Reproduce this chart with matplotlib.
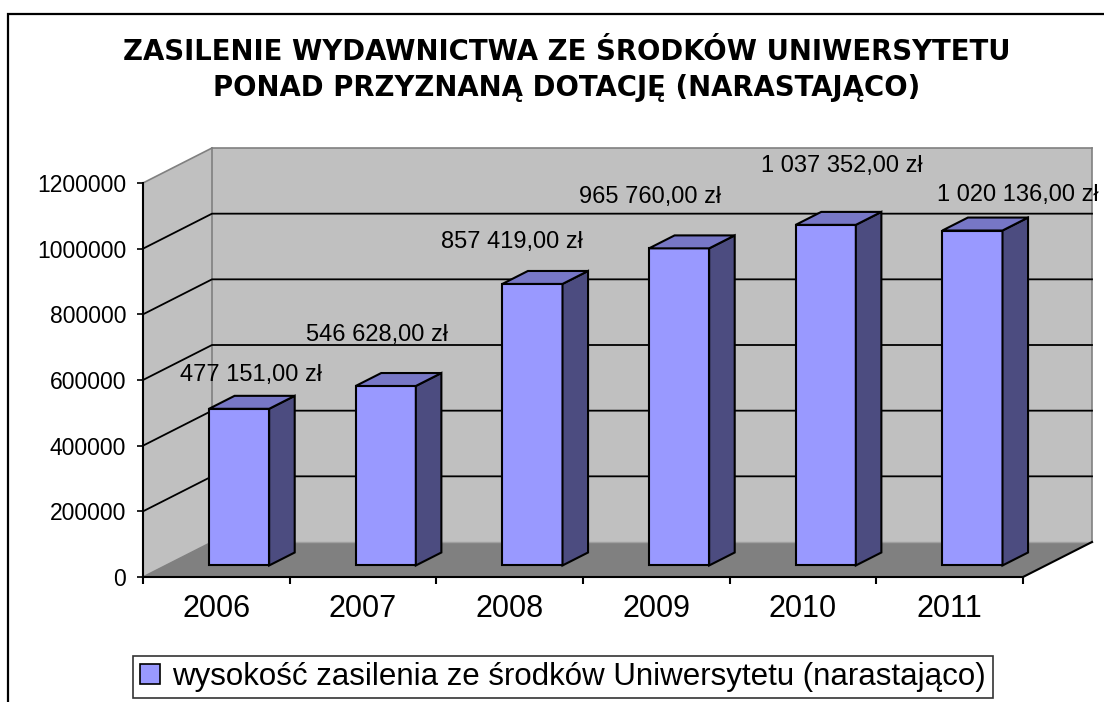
import matplotlib
matplotlib.use("Agg")
import matplotlib.pyplot as plt
from matplotlib.patches import Polygon, Rectangle
from matplotlib.lines import Line2D

plt.rcParams["font.family"] = ["Liberation Sans", "DejaVu Sans"]

# data
years = ["2006", "2007", "2008", "2009", "2010", "2011"]
values = [477151, 546628, 857419, 965760, 1037352, 1020136]
yticks = [0, 200000, 400000, 600000, 800000, 1000000, 1200000]
title_lines = ["ZASILENIE WYDAWNICTWA ZE ŚRODKÓW UNIWERSYTETU",
               "PONAD PRZYZNANĄ DOTACJĘ (NARASTAJĄCO)"]
legend_label = "wysokość zasilenia ze środków Uniwersytetu (narastająco)"

# hand-placed data label offsets (pixels, from top centre of each bar)
label_dx = [-1, -22, -33, -42, 3, 33]
label_dy = [27, 44, 35, 45, 52, 29]

# colours
front_c = "#9999ff"
top_c = "#7777c6"
side_c = "#4c4c80"
wall_c = "#c0c0c0"
floor_c = "#808080"

W, H = 1104, 702
fig = plt.figure(figsize=(W / 100, H / 100), dpi=100)

# outer frame (cut by the page edge on the right and bottom)
fig.patches.append(Rectangle((7.5 / W, -0.05), 1.2, (H - 13.5) / H + 0.05,
                             transform=fig.transFigure, fill=False,
                             ec="black", lw=1.6))

fig.text(567 / W, 1 - 59.5 / H, title_lines[0], ha="center", va="baseline",
         fontsize=19.8, fontweight="bold", family="DejaVu Sans")
fig.text(567 / W, 1 - 96 / H, title_lines[1], ha="center", va="baseline",
         fontsize=19.8, fontweight="bold", family="DejaVu Sans")

ax = fig.add_axes([143 / W, 1 - 577 / H, 880 / W, 394 / H])
n = len(years)
ymax = yticks[-1]
ax.set_xlim(0, n)
ax.set_ylim(0, ymax)

# oblique depth offsets in data units
DX = 0.4705
DY = 106600

# walls
ax.add_patch(Polygon([(0, 0), (DX, DY), (DX, ymax + DY), (0, ymax)],
                     closed=True, fc=wall_c, ec="none", clip_on=False, zorder=1))
ax.add_patch(Polygon([(DX, DY), (n + DX, DY), (n + DX, ymax + DY), (DX, ymax + DY)],
                     closed=True, fc=wall_c, ec="none", clip_on=False, zorder=1))
# wall edges
for xs, ys in [([0, DX], [ymax, ymax + DY]),
               ([DX, n + DX], [ymax + DY, ymax + DY]),
               ([DX, DX], [DY, ymax + DY]),
               ([n + DX, n + DX], [DY, ymax + DY]),
               ([0, DX], [0, DY])]:
    ax.add_line(Line2D(xs, ys, color="#808080", lw=1.2, clip_on=False, zorder=2))

# gridlines
for t in yticks[1:-1]:
    ax.add_line(Line2D([0, DX, n + DX], [t, t + DY, t + DY], color="black",
                       lw=1.3, clip_on=False, zorder=2))

# floor
ax.add_patch(Polygon([(0, 0), (n, 0), (n + DX, DY), (DX, DY)], closed=True,
                     fc=floor_c, ec="none", clip_on=False, zorder=3))
ax.add_line(Line2D([DX, n + DX], [DY, DY], color="#a0a0a0", lw=1.0,
                   clip_on=False, zorder=3))
ax.add_line(Line2D([n, n + DX], [0, DY], color="black", lw=1.5,
                   clip_on=False, zorder=3))

# bars
bw = 0.41
d0 = 0.33
dd = 0.37
for i, v in enumerate(values):
    x0 = i + 0.5 - bw / 2 + d0 * DX
    y0 = d0 * DY
    ox, oy = dd * DX, dd * DY
    kw = dict(closed=True, ec="black", lw=1.5, clip_on=False, zorder=4,
              joinstyle="miter")
    ax.add_patch(Polygon([(x0, y0), (x0 + bw, y0), (x0 + bw, y0 + v), (x0, y0 + v)],
                         fc=front_c, **kw))
    ax.add_patch(Polygon([(x0 + bw, y0), (x0 + bw + ox, y0 + oy),
                          (x0 + bw + ox, y0 + v + oy), (x0 + bw, y0 + v)],
                         fc=side_c, **kw))
    ax.add_patch(Polygon([(x0, y0 + v), (x0 + bw, y0 + v),
                          (x0 + bw + ox, y0 + v + oy), (x0 + ox, y0 + v + oy)],
                         fc=top_c, **kw))
    lab = f"{v:,.2f}".replace(",", " ").replace(".", ",") + " zł"
    ax.annotate(lab, (x0 + bw / 2 + ox / 2, y0 + v + oy / 2),
                xytext=(label_dx[i], label_dy[i]), textcoords="offset pixels",
                ha="center", va="center", fontsize=17, zorder=6,
                annotation_clip=False)

# axes styling
ax.patch.set_visible(False)
for s in ["top", "right"]:
    ax.spines[s].set_visible(False)
for s in ["left", "bottom"]:
    ax.spines[s].set_linewidth(1.5)
    ax.spines[s].set_zorder(5)
ax.set_yticks(yticks)
ax.set_yticklabels([str(t) for t in yticks], fontsize=16.5)
ax.tick_params(axis="y", direction="out", length=4, width=1.2, pad=8)
ax.set_xticks([i for i in range(n + 1)], minor=True)
ax.set_xticks([i + 0.5 for i in range(n)])
ax.set_xticklabels(years, fontsize=22)
ax.tick_params(axis="x", which="major", length=0, pad=12)
ax.tick_params(axis="x", which="minor", direction="out", length=5, width=1.5)

# legend
leg = fig.legend([Rectangle((0, 0), 1, 1, fc=front_c, ec="black", lw=1.2)],
                 [legend_label], loc="center", bbox_to_anchor=(563 / W, 1 - 677 / H),
                 fontsize=22.5, frameon=True, fancybox=False, handlelength=0.65,
                 handleheight=0.65, handletextpad=0.4, borderpad=0.2,
                 borderaxespad=0)
leg.get_frame().set_edgecolor("black")
leg.get_frame().set_linewidth(1.2)

fig.savefig("out.png", dpi=100)
